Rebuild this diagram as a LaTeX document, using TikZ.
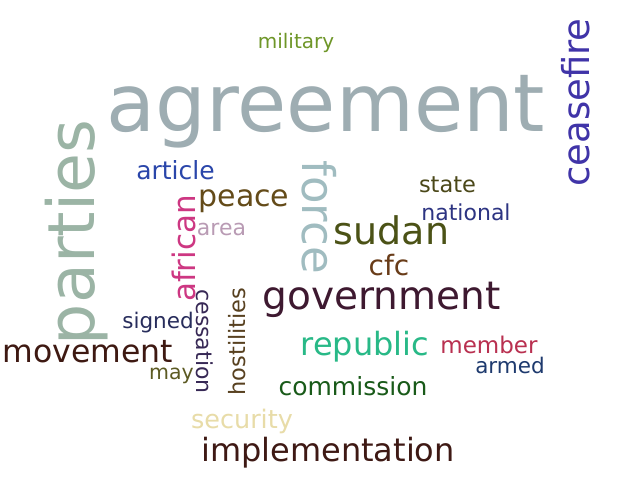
\documentclass[tikz,border=0pt]{standalone}
\usepackage{fontspec}
\setmainfont{DejaVu Sans}
\definecolor{cMilitary}{RGB}{110,150,40}
\definecolor{cAgreement}{RGB}{158,173,178}
\definecolor{cCeasefire}{RGB}{64,52,168}
\definecolor{cParties}{RGB}{155,180,165}
\definecolor{cArticle}{RGB}{42,70,170}
\definecolor{cPeace}{RGB}{100,75,25}
\definecolor{cArea}{RGB}{185,155,180}
\definecolor{cForce}{RGB}{160,188,192}
\definecolor{cSudan}{RGB}{75,82,22}
\definecolor{cAfrican}{RGB}{205,55,130}
\definecolor{cState}{RGB}{75,72,25}
\definecolor{cNational}{RGB}{45,52,130}
\definecolor{cCfc}{RGB}{105,60,25}
\definecolor{cGovernment}{RGB}{62,25,48}
\definecolor{cSigned}{RGB}{40,45,92}
\definecolor{cCessation}{RGB}{55,40,85}
\definecolor{cHostilities}{RGB}{88,65,32}
\definecolor{cMovement}{RGB}{62,25,18}
\definecolor{cMay}{RGB}{92,90,35}
\definecolor{cRepublic}{RGB}{40,185,135}
\definecolor{cMember}{RGB}{185,48,80}
\definecolor{cArmed}{RGB}{30,58,110}
\definecolor{cCommission}{RGB}{25,90,25}
\definecolor{cSecurity}{RGB}{232,220,168}
\definecolor{cImplementation}{RGB}{62,25,20}
\newcommand{\fsz}[1]{\fontsize{#1bp}{#1bp}\selectfont}
\begin{document}
\begin{tikzpicture}[x=1bp,y=1bp,
  word/.style={inner sep=0pt,outer sep=0pt,anchor=center},
  up/.style={rotate=90},
  down/.style={rotate=-90}]
\useasboundingbox[fill=white] (0,0) rectangle (640,-480);
\node[word,text=cMilitary,font=\fsz{20}] (military) at (296,-42.5) {military};
\node[word,text=cAgreement,font=\fsz{80}] (agreement) at (326,-112) {agreement};
\node[word,up,text=cCeasefire,font=\fsz{37}] (ceasefire) at (575.5,-102.5) {ceasefire};
\node[word,up,text=cParties,font=\fsz{65}] (parties) at (76.5,-232.5) {parties};
\node[word,text=cArticle,font=\fsz{25}] (article) at (175.5,-170.5) {article};
\node[word,text=cPeace,font=\fsz{30}] (peace) at (244,-201.5) {peace};
\node[word,text=cArea,font=\fsz{22}] (area) at (221.5,-229.5) {area};
\node[word,down,text=cForce,font=\fsz{45}] (force) at (319.5,-217) {force};
\node[word,text=cSudan,font=\fsz{38}] (sudan) at (391.5,-230) {sudan};
\node[word,up,text=cAfrican,font=\fsz{31}] (african) at (184,-248.5) {african};
\node[word,text=cState,font=\fsz{22.5}] (state) at (447.5,-184.5) {state};
\node[word,text=cNational,font=\fsz{22}] (national) at (466,-212) {national};
\node[word,text=cCfc,font=\fsz{28}] (cfc) at (389,-265.5) {cfc};
\node[word,text=cGovernment,font=\fsz{39}] (government) at (381.5,-300) {government};
\node[word,text=cSigned,font=\fsz{21.5}] (signed) at (158,-322.5) {signed};
\node[word,down,text=cCessation,font=\fsz{22}] (cessation) at (205,-341.5) {cessation};
\node[word,up,text=cHostilities,font=\fsz{22.5}] (hostilities) at (237,-341.5) {hostilities};
\node[word,text=cMovement,font=\fsz{31.5}] (movement) at (88,-352) {movement};
\node[word,text=cMay,font=\fsz{20.5}] (may) at (171.5,-376) {may};
\node[word,text=cRepublic,font=\fsz{32}] (republic) at (365,-346.5) {republic};
\node[word,text=cMember,font=\fsz{23}] (member) at (489,-345) {member};
\node[word,text=cArmed,font=\fsz{21.5}] (armed) at (510,-365) {armed};
\node[word,text=cCommission,font=\fsz{25}] (commission) at (353,-386) {commission};
\node[word,text=cSecurity,font=\fsz{25.5}] (security) at (242,-421.5) {security};
\node[word,text=cImplementation,font=\fsz{32}] (implementation) at (328,-452.5) {implementation};
\end{tikzpicture}
\end{document}
